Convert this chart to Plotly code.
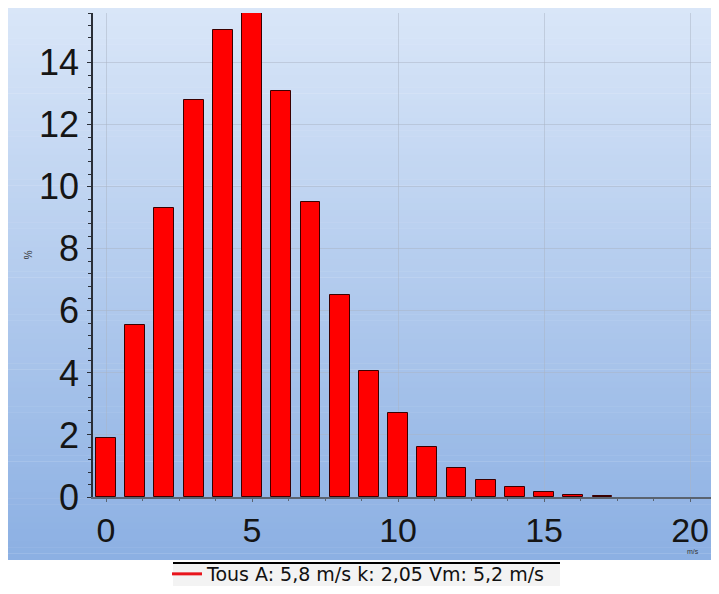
import plotly.graph_objects as go

# ---- data ----
speed_bins = list(range(0, 18))  # m/s
percent = [1.9, 5.55, 9.3, 12.8, 15.05, 15.6, 13.1, 9.5, 6.5, 4.05,
           2.7, 1.6, 0.94, 0.55, 0.33, 0.17, 0.05, 0.03]
x_ticks = [0, 5, 10, 15, 20]
legend_label = "Tous A: 5,8 m/s k: 2,05 Vm: 5,2 m/s"
y_title = "%"
x_unit = "m/s"

# The page body has an 8px default margin, so the figure starts at (8, 8);
# keep the page inside the window so no scrollbars appear.
OFF = 8
W, H = 719 - OFF, 594 - 2 * OFF
L, R, T = 93 - OFF, 0, 13 - OFF
B = H - (497 - OFF)
pw, ph = W - L - R, H - T - B

def px_x(p):  # p: screen pixel x
    return (p - OFF - L) / pw

def px_y(p):  # p: screen pixel y
    return (497 - p) / ph

fig = go.Figure()

fig.add_trace(go.Bar(
    x=speed_bins, y=percent, width=0.68,
    marker=dict(color="#ff0000", line=dict(color="#3a0000", width=1)),
    showlegend=False,
))
fig.add_trace(go.Scatter(
    x=[None], y=[None], mode="lines", name=legend_label,
    line=dict(color="#e8141c", width=3),
))

# gradient background (bands)
shapes = []
top_c = (217, 230, 248)
bot_c = (140, 176, 227)
n = 90
y0p, y1p = px_y(560), px_y(8)
for i in range(n):
    t = i / (n - 1)
    c = tuple(int(round(top_c[k] + (bot_c[k] - top_c[k]) * t)) for k in range(3))
    ya = y1p - (y1p - y0p) * i / n
    yb = y1p - (y1p - y0p) * (i + 1) / n
    shapes.append(dict(type="rect", xref="paper", yref="paper",
                       x0=px_x(8), x1=1.0, y0=yb, y1=ya + 0.001,
                       fillcolor="rgb(%d,%d,%d)" % c, line=dict(width=0),
                       layer="below"))
# legend box
shapes.append(dict(type="rect", xref="paper", yref="paper",
                   x0=px_x(173), x1=px_x(560), y0=px_y(600), y1=px_y(563),
                   fillcolor="#f3f3f3", line=dict(width=0), layer="below"))
shapes.append(dict(type="line", xref="paper", yref="paper",
                   x0=px_x(173), x1=px_x(560), y0=px_y(563), y1=px_y(563),
                   line=dict(color="#000000", width=2)))

font_main = "Liberation Sans, Arial, sans-serif"

fig.update_layout(
    width=W, height=H,
    margin=dict(l=L, r=R, t=T, b=B, pad=0, autoexpand=False),
    paper_bgcolor="white",
    plot_bgcolor="rgba(0,0,0,0)",
    shapes=shapes,
    bargap=0,
    showlegend=True,
    legend=dict(x=px_x(167), y=px_y(555), xanchor="left", yanchor="top",
                bgcolor="rgba(0,0,0,0)", borderwidth=0,
                font=dict(family="DejaVu Sans, Verdana, sans-serif", size=19, color="#111111"),
                itemwidth=30),
    xaxis=dict(
        range=[-0.445, 20.99], tickvals=x_ticks, showgrid=True, automargin=False,
        gridcolor="rgba(170,180,195,0.5)", gridwidth=1,
        zeroline=False, showline=True, linecolor="#5a6370", linewidth=1.5,
        ticks="outside", ticklen=3, tickcolor="#5a6370",
        minor=dict(dtick=1.25, ticks="outside", ticklen=2, tickcolor="#5a6370", showgrid=False),
        tickfont=dict(family=font_main, size=34, color="#151515"),
        ticklabelstandoff=-1, ticklabeloverflow="allow",
    ),
    yaxis=dict(
        range=[0, 15.6], dtick=2, showgrid=True, automargin=False,
        gridcolor="rgba(170,180,195,0.5)", gridwidth=1,
        zeroline=False, showline=True, linecolor="#2a2f38", linewidth=1.5,
        ticks="outside", ticklen=4, tickcolor="#2a2f38",
        minor=dict(dtick=0.4, ticks="outside", ticklen=3, tickcolor="#2a2f38", showgrid=False),
        tickfont=dict(family=font_main, size=36, color="#151515"),
        ticklabelstandoff=1, ticklabeloverflow="allow",
    ),
    annotations=[
        dict(text=y_title, xref="paper", yref="paper", x=px_x(20), y=px_y(255),
             showarrow=False, textangle=90,
             font=dict(family=font_main, size=10, color="#333333")),
        dict(text=x_unit, xref="paper", yref="paper", x=px_x(701), y=px_y(557),
             showarrow=False, font=dict(family=font_main, size=7, color="#333333")),
    ],
)

fig.write_html("out.html")
